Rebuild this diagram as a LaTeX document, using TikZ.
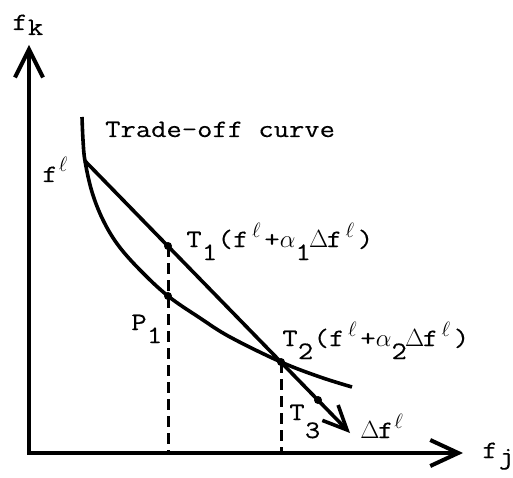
\documentclass[tikz,border=0pt]{standalone}
\usepackage{fontspec}
\setmonofont{Latin Modern Mono}[FakeStretch=1.19,FakeBold=0.35]
\usetikzlibrary{arrows.meta}
\newcommand{\tcell}[1]{\makebox[15.6pt]{#1}}
\newcommand{\tlcell}[1]{\makebox[15.6pt][l]{\hspace{1pt}#1}}
\newcommand{\tlow}[2][13pt]{\raisebox{-#1}{#2}}
\newcommand{\tsup}{\raisebox{10pt}{\fontsize{21}{21}\selectfont$\ell$}}
\begin{document}
\begin{tikzpicture}[x=1pt,y=-1pt,
  lbl/.style={anchor=base west,inner sep=0pt,font=\ttfamily\fontsize{25}{30}\selectfont},
  axis/.style={line width=4pt,line join=miter},
  curvestyle/.style={line width=3.6pt},
  dashline/.style={line width=3pt,dash pattern=on 11pt off 6pt},
  dot/.style={circle,fill,inner sep=0pt,minimum size=8pt}]
\useasboundingbox (0,0) rectangle (513,478);
% coordinates
\coordinate (O) at (29,453);
\coordinate (ytip) at (29,45);
\coordinate (xtip) at (463,453);
\coordinate (fl) at (85,161);
\coordinate (T1) at (168,246);
\coordinate (P1) at (168,296);
\coordinate (T2) at (281,362);
\coordinate (T3) at (318,400);
\coordinate (tip) at (350,433);
% axes
\draw[axis,{Straight Barb[length=28pt,width=28pt]}-{Straight Barb[length=28pt,width=26pt]}] (ytip) -- (O) -- (xtip);
% dashed verticals
\draw[dashline] (T1) -- (T1 |- O);
\draw[dashline] (T2) -- (T2 |- O);
% trade-off curve
\draw[curvestyle] plot[smooth,tension=0.6] coordinates {(82,117) (83,140) (fl) (92,192) (103,220) (118,245) (140,270) (P1) (200,318) (230,337) (T2) (320,377) (352,387)};
% search direction
\draw[curvestyle,-{Straight Barb[length=24pt,width=22pt]}] (fl) -- (tip);
% dots
\node[dot] (dT1) at (T1) {};
\node[dot] (dP1) at (P1) {};
\node[dot] (dT2) at (T2) {};
\node[dot] (dT3) at (T3) {};
% labels
\node[lbl] (fk) at (12,30) {\tcell{f}\tlow[5pt]{\tcell{k}}};
\node[lbl] (fj) at (482,458) {\tcell{f}\tlow[6pt]{\tlcell{j}}};
\node[lbl] (trade) at (105,137) {Trade-off curve};
\node[lbl] (flab) at (42,182) {\tcell{f}\tlcell{\tsup}};
\node[lbl] (t1lab) at (186,247) {\tcell{T}\tcell{\tlow{1}}\tcell{(}\tcell{f}\tcell{\tsup}\tcell{+}\tcell{$\alpha$}\tcell{\tlow{1}}\tcell{$\Delta$}\tcell{f}\tcell{\tsup}\tcell{)}};
\node[lbl] (p1lab) at (131,330) {\tcell{P}\tcell{\tlow{1}}};
\node[lbl] (t2lab) at (282,346) {\tcell{T}\tcell{\tlow{2}}\tcell{(}\tcell{f}\tcell{\tsup}\tcell{+}\tcell{$\alpha$}\tcell{\tlow{2}}\tcell{$\Delta$}\tcell{f}\tcell{\tsup}\tcell{)}};
\node[lbl] (t3lab) at (289,420) {\tcell{T}\tcell{\tlow[18pt]{3}}};
\node[lbl] (dflab) at (362,438) {\tcell{$\Delta$}\tcell{f}\tlcell{\tsup}};
\end{tikzpicture}
\end{document}
